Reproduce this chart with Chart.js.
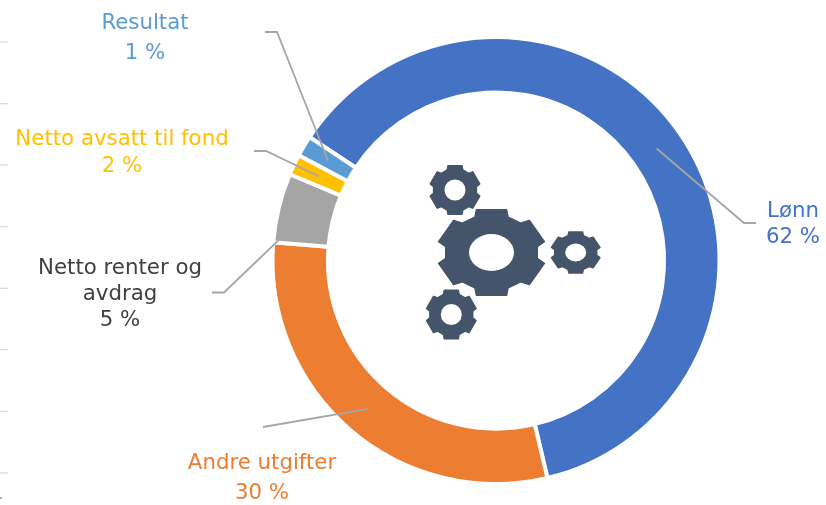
<!DOCTYPE html>
<html>
<head>
<meta charset="utf-8">
<title>Utgifter</title>
<script src="https://cdn.jsdelivr.net/npm/chart.js@4"></script>
<style>
    html, body { margin: 0; padding: 0; background: #fff; }
    #wrap { position: relative; width: 826px; height: 505px; }
</style>
</head>
<body>
<div id="wrap"><canvas id="donut" width="826" height="505"></canvas></div>
<script>
// data
const categories = ['Lønn', 'Andre utgifter', 'Netto renter og avdrag', 'Netto avsatt til fond', 'Resultat'];
const sliceValues = [62, 30, 5, 1.5, 1.5];
const shownPercent = [62, 30, 5, 2, 1];
const sliceColors = ['#4472C4', '#ED7D31', '#A5A5A5', '#FFC000', '#5B9BD5'];
const labelColors = ['#4472C4', '#ED7D31', '#404040', '#FFC000', '#5B9BD5'];

// label text lines, centre x and y of each line
const labelBoxes = [
    { lines: ['Lønn'], x: 793, ys: [211, 237] },
    { lines: ['Andre utgifter'], x: 262, ys: [463, 493] },
    { lines: ['Netto renter og', 'avdrag'], x: 120, ys: [268, 294, 320] },
    { lines: ['Netto avsatt til fond'], x: 122, ys: [139, 166] },
    { lines: ['Resultat'], x: 145, ys: [23, 53] }
];

// leader lines: start points outside the ring, they end at the slice centre
const leaders = [
    [[756, 223], [744, 223]],
    [[263, 427]],
    [[212, 292.5], [224, 292.5]],
    [[254, 151], [266, 151]],
    [[265, 32], [277, 32]]
];

// faint ticks left over on the left side
const leftTicks = [42, 103.7, 165, 226.7, 288.3, 349.7, 411.3, 473];

// gear icon
const gears = [
    { x: 491.5, y: 252.5, sx: 54.5, sy: 44.5, hx: 22.5, hy: 18.5 },
    { x: 455, y: 190, sx: 25.5, sy: 25.2, hx: 10.5, hy: 10.5 },
    { x: 451.3, y: 314.5, sx: 25.5, sy: 25.2, hx: 10.5, hy: 10.5 },
    { x: 575.7, y: 252.5, sx: 25, sy: 21.2, hx: 10.5, hy: 9 }
];

function gearOutline(ctx, g) {
    const rad = Math.PI / 180;
    for (let k = 0; k < 6; k++) {
        const a = k * 60;
        [[a - 21, 0.85], [a - 16, 1.0], [a + 16, 1.0], [a + 21, 0.85]].forEach(p => {
            ctx.lineTo(g.x + g.sx * p[1] * Math.sin(p[0] * rad), g.y - g.sy * p[1] * Math.cos(p[0] * rad));
        });
    }
    ctx.closePath();
}

function drawGear(ctx, g) {
    ctx.fillStyle = '#44546A';
    ctx.strokeStyle = '#44546A';
    ctx.lineWidth = 1.5;
    ctx.lineJoin = 'round';
    ctx.beginPath();
    gearOutline(ctx, g);
    ctx.fill();
    ctx.stroke();
    ctx.fillStyle = '#ffffff';
    ctx.beginPath();
    ctx.ellipse(g.x, g.y, g.hx, g.hy, 0, 0, Math.PI * 2);
    ctx.fill();
}

// draws ticks, leaders, labels and gears on top of the donut
const annotations = {
    id: 'annotations',
    afterDatasetsDraw(chart) {
        const ctx = chart.ctx;
        const arcs = chart.getDatasetMeta(0).data;
        ctx.save();

        ctx.strokeStyle = '#D9D9D9';
        ctx.lineWidth = 1.2;
        leftTicks.forEach(y => {
            ctx.beginPath();
            ctx.moveTo(0, y);
            ctx.lineTo(8, y);
            ctx.stroke();
        });
        ctx.strokeStyle = '#595959';
        ctx.beginPath();
        ctx.moveTo(0, 498);
        ctx.lineTo(2, 498);
        ctx.stroke();

        ctx.strokeStyle = '#A6A6A6';
        ctx.lineWidth = 1.8;
        leaders.forEach((pts, i) => {
            const end = arcs[i].getCenterPoint();
            ctx.beginPath();
            ctx.moveTo(pts[0][0], pts[0][1]);
            pts.slice(1).forEach(p => ctx.lineTo(p[0], p[1]));
            ctx.lineTo(end.x, end.y);
            ctx.stroke();
        });

        gears.forEach(g => drawGear(ctx, g));

        ctx.font = '21.3px "DejaVu Sans"';
        ctx.textAlign = 'center';
        ctx.textBaseline = 'middle';
        labelBoxes.forEach((box, i) => {
            ctx.fillStyle = labelColors[i];
            const lines = box.lines.concat(shownPercent[i] + ' %');
            lines.forEach((line, j) => ctx.fillText(line, box.x, box.ys[j]));
        });

        ctx.restore();
    }
};

new Chart(document.getElementById('donut'), {
    type: 'doughnut',
    data: {
        labels: categories,
        datasets: [{
            data: sliceValues,
            backgroundColor: sliceColors,
            borderColor: '#ffffff',
            borderWidth: 4
        }]
    },
    options: {
        responsive: false,
        animation: false,
        rotation: -56.5,
        radius: 223.5,
        cutout: '75.2%',
        layout: { padding: { left: 166, top: 16 } },
        plugins: {
            legend: { display: false },
            tooltip: { enabled: false }
        }
    },
    plugins: [annotations]
});
</script>
</body>
</html>
